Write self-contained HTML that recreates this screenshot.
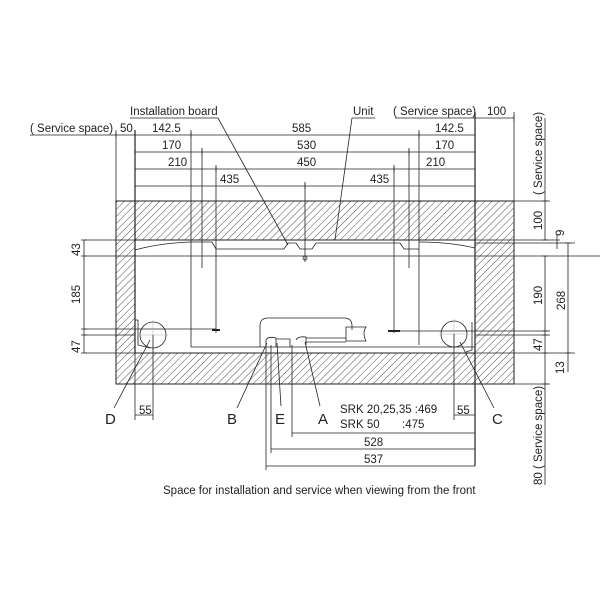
<!DOCTYPE html>
<html><head><meta charset="utf-8"><style>
html,body{margin:0;padding:0;background:#fff;}
svg{display:block;}
text{font-family:"Liberation Sans",sans-serif;fill:#222;}
</style></head><body>
<svg width="600" height="600" viewBox="0 0 600 600" xmlns="http://www.w3.org/2000/svg">
<defs>
<pattern id="h" width="5" height="5" patternUnits="userSpaceOnUse" patternTransform="rotate(45)">
<line x1="0" y1="0" x2="0" y2="5" stroke="#222" stroke-width="0.8"/>
</pattern>
</defs>
<path d="M116,201 H514 V384 H116 Z M135,240 V353 H475 V240 Z" fill="url(#h)" fill-rule="evenodd" stroke="#222" stroke-width="1"/>
<g stroke="#222" stroke-width="0.8" fill="none">
<line x1="30" y1="135" x2="475" y2="135"/>
<line x1="135" y1="152" x2="475" y2="152"/>
<line x1="135" y1="169" x2="475" y2="169"/>
<line x1="135" y1="186" x2="475" y2="186"/>
<line x1="475" y1="118" x2="514" y2="118"/>
<line x1="116" y1="130" x2="116" y2="201"/>
<line x1="135" y1="130" x2="135" y2="353" stroke-width="1.2"/>
<line x1="475" y1="112" x2="475" y2="466" stroke-width="1.2"/>
<line x1="514" y1="112" x2="514" y2="201"/>
<line x1="191" y1="130" x2="191" y2="347"/>
<line x1="419" y1="130" x2="419" y2="345"/>
<line x1="202" y1="148" x2="202" y2="268"/>
<line x1="409" y1="148" x2="409" y2="268"/>
<line x1="216" y1="165" x2="216" y2="333"/>
<line x1="394" y1="165" x2="394" y2="333"/>
<line x1="305" y1="182" x2="305" y2="262"/>
<circle cx="305" cy="258" r="2"/>
<line x1="212" y1="330" x2="220" y2="330" stroke-width="2"/>
<line x1="388" y1="331" x2="400" y2="331" stroke-width="2"/>
<path d="M116,132v6M135,132v6M191,132v6M419,132v6M202,149v6M409,149v6M216,166v6M394,166v6M305,183v6M475,132v6M475,149v6M475,166v6M475,183v6M514,115v6M135,149v6M135,166v6M135,183v6"/>
<path d="M135,250 Q160,243 191,242"/>
<path d="M191,242 H212 L216,249 H284 L288,243 H296 L300,249 H312 L316,243 H400 L404,249 H419"/>
<path d="M419,242 Q450,242 475,248"/>
<line x1="84" y1="240" x2="135" y2="240"/>
<line x1="84" y1="256" x2="600" y2="256"/>
<line x1="84" y1="329" x2="216" y2="329"/>
<line x1="84" y1="335" x2="135" y2="335"/>
<line x1="84" y1="353" x2="135" y2="353"/>
<line x1="84" y1="240" x2="84" y2="353"/>
<path d="M81,240h6M81,256h6M81,329h6M81,335h6M81,353h6"/>
<line x1="514" y1="201" x2="550" y2="201"/>
<line x1="475" y1="240" x2="560" y2="240"/>
<line x1="475" y1="243" x2="575" y2="243"/>
<line x1="394" y1="331" x2="550" y2="331"/>
<line x1="475" y1="335" x2="550" y2="335"/>
<line x1="475" y1="353" x2="575" y2="353"/>
<line x1="514" y1="384" x2="550" y2="384"/>
<line x1="545" y1="118" x2="545" y2="240"/>
<line x1="545" y1="256" x2="545" y2="384"/>
<line x1="557" y1="234" x2="557" y2="249"/>
<line x1="568" y1="243" x2="568" y2="372"/>
<line x1="545" y1="384" x2="545" y2="485"/>
<path d="M542,201h6M542,240h6M542,256h6M542,331h6M542,335h6M542,353h6M542,384h6M565,243h6M565,353h6"/>
<path d="M191,347 H475"/>
<path d="M260,347 V326 Q260,318 268,318 H344 Q352,318 352,326 V330"/>
<path d="M266,345 V340 Q268,336 276,338 V347 M276,339 H290 V347 M296,340 Q298,336 306,337 V345 M306,338 H346 M306,342 H346"/>
<path d="M346,327 H366 Q362,333 366,341 H346 Z"/>
<line x1="135" y1="320" x2="138" y2="320"/>
<path d="M138,320 V345 L150,348"/>
<path d="M472,322 V350 L466,352"/>
<circle cx="153" cy="335" r="13"/>
<circle cx="454" cy="334" r="13"/>
<path d="M153,320v30M138,335h30M454,319v30M439,334h30" stroke="#aaa" stroke-width="0.5"/>
<line x1="153" y1="335" x2="153" y2="420"/>
<line x1="454" y1="334" x2="454" y2="420"/>
<line x1="135" y1="353" x2="135" y2="420"/>
<line x1="135" y1="415" x2="153" y2="415"/>
<line x1="454" y1="415" x2="475" y2="415"/>
<line x1="266" y1="345" x2="266" y2="470"/>
<line x1="271" y1="345" x2="271" y2="453"/>
<line x1="292" y1="345" x2="292" y2="437"/>
<line x1="292" y1="433" x2="475" y2="433"/>
<line x1="271" y1="449" x2="475" y2="449"/>
<line x1="266" y1="466" x2="475" y2="466"/>
<line x1="114" y1="408" x2="150" y2="340"/>
<line x1="237" y1="408" x2="267" y2="343"/>
<line x1="281" y1="406" x2="277" y2="343"/>
<line x1="320" y1="406" x2="305" y2="342"/>
<line x1="494" y1="408" x2="460" y2="342"/>
<line x1="288" y1="245" x2="218" y2="118"/>
<line x1="335" y1="240" x2="352" y2="118"/>
<line x1="130" y1="118" x2="218" y2="118"/>
<line x1="352" y1="118" x2="375" y2="118"/>
<line x1="395" y1="118" x2="475" y2="118"/>
</g>
<g font-size="11.5">
<text x="130" y="115">Installation board</text>
<text x="353" y="115">Unit</text>
<text x="393" y="115">( Service space)</text>
<text x="487" y="115">100</text>
<text x="30" y="132">( Service space)</text>
<text x="120" y="132">50</text>
<text x="152" y="132">142.5</text>
<text x="292" y="132">585</text>
<text x="435" y="132">142.5</text>
<text x="162" y="149">170</text>
<text x="297" y="149">530</text>
<text x="435" y="149">170</text>
<text x="168" y="166">210</text>
<text x="297" y="166">450</text>
<text x="426" y="166">210</text>
<text x="220" y="183">435</text>
<text x="370" y="183">435</text>
<text x="139" y="414">55</text>
<text x="457" y="414">55</text>
<text x="340" y="413">SRK 20,25,35 :469</text>
<text x="340" y="428">SRK 50</text>
<text x="402" y="428">:475</text>
<text x="364" y="446">528</text>
<text x="364" y="463">537</text>
<text x="163" y="494">Space for installation and service when viewing from the front</text>
<g transform="translate(80,256) rotate(-90)"><text x="0" y="0">43</text></g>
<g transform="translate(80,304) rotate(-90)"><text x="0" y="0">185</text></g>
<g transform="translate(80,353) rotate(-90)"><text x="0" y="0">47</text></g>
<g transform="translate(542,230) rotate(-90)"><text x="0" y="0">100</text></g>
<g transform="translate(564,236) rotate(-90)"><text x="0" y="0">9</text></g>
<g transform="translate(542,305) rotate(-90)"><text x="0" y="0">190</text></g>
<g transform="translate(565,310) rotate(-90)"><text x="0" y="0">268</text></g>
<g transform="translate(542,351) rotate(-90)"><text x="0" y="0">47</text></g>
<g transform="translate(564,374) rotate(-90)"><text x="0" y="0">13</text></g>
<g transform="translate(542,195) rotate(-90)"><text x="0" y="0">( Service space)</text></g>
<g transform="translate(542,485) rotate(-90)"><text x="0" y="0">80 ( Service space)</text></g>
</g>
<g font-size="15">
<text x="105" y="424">D</text>
<text x="227" y="424">B</text>
<text x="275" y="424">E</text>
<text x="318" y="424">A</text>
<text x="492" y="424">C</text>
</g>
</svg>
</body></html>
